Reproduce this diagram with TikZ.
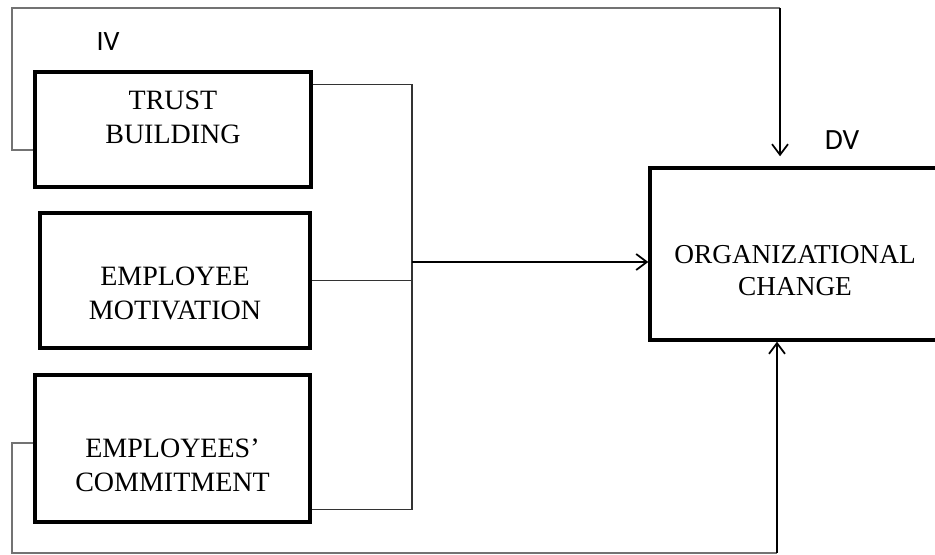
\documentclass[tikz,border=0pt]{standalone}
\usepackage{fontspec}
\setmainfont{Liberation Serif}
\newfontfamily\labfont{Carlito}
\usetikzlibrary{arrows.meta}

\begin{document}
\begin{tikzpicture}[x=0.75pt,y=-0.75pt,
		box/.style n args={2}{draw,line width=2.6pt,minimum width={#1*0.75pt},minimum height={#2*0.75pt},inner sep=0pt},
		txt/.style={align=center,font=\fontsize{21}{25.5}\selectfont},
		feed/.style={draw=black!55,line width=1pt},
		brk/.style={draw=black!80,line width=0.9pt},
		arr/.style={draw,line width=1.5pt,-{Straight Barb[length=8pt,width=12pt,line width=1.3pt]}}]
	\useasboundingbox (0,0) rectangle (935,555);
	\node[box={276}{115}] (trust) at (173,129.5) {};
	\node[box={270}{135}] (motiv) at (175,280.5) {};
	\node[box={275}{147}] (commit) at (172.5,448.5) {};
	\node[box={292}{172}] (org) at (796,254) {};
	\node[txt] (trusttxt) at (173,117) {TRUST\\BUILDING};
	\node[txt] (motivtxt) at (175,293) {EMPLOYEE\\MOTIVATION};
	\node[txt] (committxt) at (172.5,465) {EMPLOYEES’\\COMMITMENT};
	\node[txt,font=\fontsize{20.5}{24}\selectfont] (orgtxt) at (795,271) {ORGANIZATIONAL\\CHANGE};
	\node[font=\labfont\fontsize{21}{24}\selectfont] (iv) at (108,42) {IV};
	\node[font=\labfont\fontsize{22}{24}\selectfont] (dv) at (842,140) {DV};
	\coordinate (tl) at (12,8);
	\coordinate (tr) at (780,8);
	\coordinate (bl) at (12,553);
	\coordinate (br) at (777,553);
	\coordinate (join) at (412,262);
	\draw[brk] ([yshift=-10.5pt]trust.north east) -| (join);
	\draw[brk] ([yshift=10.5pt]commit.south east) -| (join);
	\draw[brk] (motiv.east) -- (motiv.east -| join);
	\draw[arr] (join) -- (join -| org.west);
	\draw[feed] ([yshift=-15.4pt]trust.west) -| (tl) -- (tr);
	\draw[arr,shorten >=7.5pt] (tr) -- (tr |- org.north);
	\draw[feed] ([yshift=4pt]commit.west) -| (bl) -- (br);
	\draw[arr] (br) -- (br |- org.south);
\end{tikzpicture}
\end{document}
